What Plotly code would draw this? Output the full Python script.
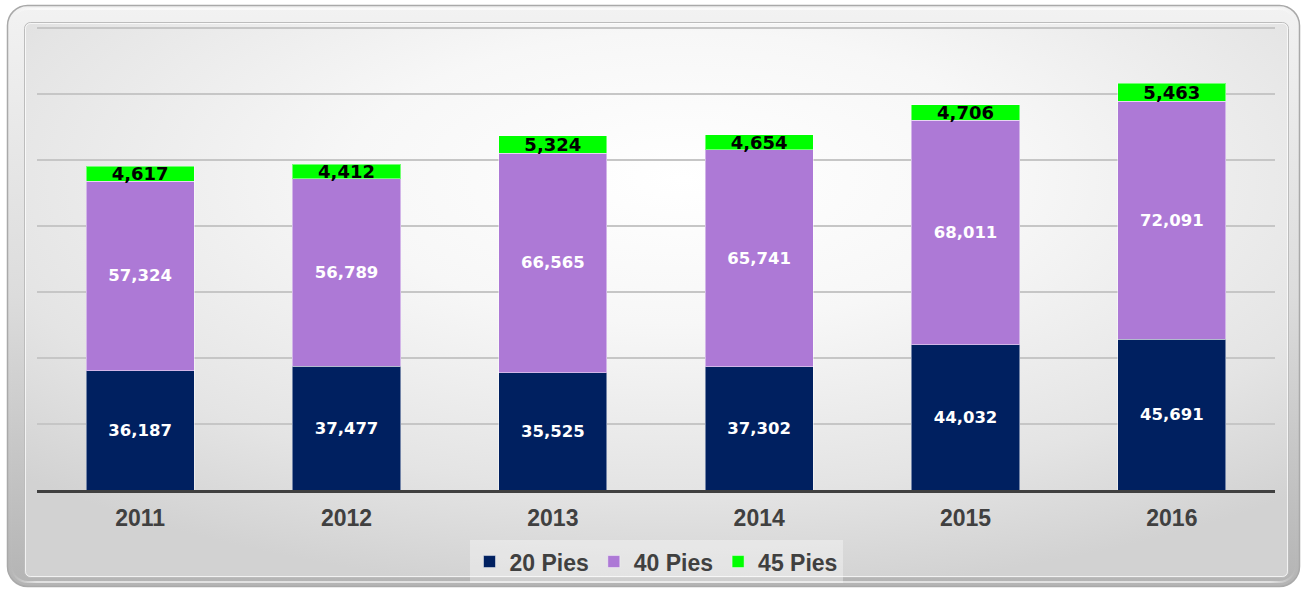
import base64
import plotly.graph_objects as go

years = ["2011", "2012", "2013", "2014", "2015", "2016"]
pies20 = [36187, 37477, 35525, 37302, 44032, 45691]
pies40 = [57324, 56789, 66565, 65741, 68011, 72091]
pies45 = [4617, 4412, 5324, 4654, 4706, 5463]
series_names = ["20 Pies", "40 Pies", "45 Pies"]
colors = ["#002060", "#AD79D6", "#00FF00"]

W, H = 1305, 589
ML, MR, MT, MB = 37, 30, 26, 99
PW, PH = W - ML - MR, H - MT - MB

svg = f'''<svg xmlns="http://www.w3.org/2000/svg" width="{W}" height="{H}" viewBox="0 0 {W} {H}">
<defs>
<linearGradient id="fr" x1="0" y1="0" x2="0" y2="1">
<stop offset="0" stop-color="#f2f2f2"/><stop offset="0.5" stop-color="#dcdcdc"/><stop offset="1" stop-color="#b4b4b4"/>
</linearGradient>
<linearGradient id="frh" x1="0" y1="0" x2="1" y2="0">
<stop offset="0" stop-color="#ffffff" stop-opacity="0.0"/><stop offset="0.02" stop-color="#ffffff" stop-opacity="0.6"/>
<stop offset="0.98" stop-color="#ffffff" stop-opacity="0.6"/><stop offset="1" stop-color="#ffffff" stop-opacity="0.0"/>
</linearGradient>
<radialGradient id="pn" cx="0.52" cy="0.28" r="0.75" fx="0.52" fy="0.28">
<stop offset="0" stop-color="#ffffff"/><stop offset="0.35" stop-color="#f7f7f7"/>
<stop offset="0.75" stop-color="#e4e4e4"/><stop offset="1" stop-color="#d2d2d2"/>
</radialGradient>
</defs>
<rect x="7.5" y="5.5" width="1292" height="581" rx="20" ry="20" fill="url(#fr)" stroke="#a9a9a9" stroke-width="1.5"/>
<rect x="11" y="9" width="1285" height="573" rx="17" ry="17" fill="none" stroke="url(#frh)" stroke-width="2"/>
<rect x="24.5" y="22.5" width="1264" height="555" rx="6" ry="6" fill="url(#pn)" stroke="#bcbcbc" stroke-width="1"/>
<rect x="25.5" y="23.5" width="1262" height="553" rx="5" ry="5" fill="none" stroke="#ffffff" stroke-opacity="0.7" stroke-width="1"/>
</svg>'''
src = "data:image/svg+xml;base64," + base64.b64encode(svg.encode()).decode()

fig = go.Figure()
values = [pies20, pies40, pies45]
for name, vals, col in zip(series_names, values, colors):
    is_top = name == "45 Pies"
    fig.add_trace(go.Bar(
        x=years, y=vals, name=name,
        marker=dict(color=col, line=dict(color="rgba(255,255,255,0.45)", width=1)),
        texttemplate="%{y:,}",
        textposition="inside",
        insidetextanchor="middle",
        textangle=0,
        constraintext="none",
        insidetextfont=dict(family="DejaVu Sans", size=18 if is_top else 16.5,
                            color="#000000" if is_top else "#ffffff", weight="bold"),
        hoverinfo="skip",
    ))

fig.update_layout(
    width=W, height=H,
    margin=dict(l=ML, r=MR, t=MT, b=MB, pad=0, autoexpand=False),
    barmode="stack",
    bargap=0.476,
    paper_bgcolor="#ffffff",
    plot_bgcolor="rgba(0,0,0,0)",
    showlegend=True,
    legend=dict(
        orientation="h", x=0.5, xanchor="center", y=-0.108, yanchor="top",
        bgcolor="rgba(255,255,255,0.35)",
        font=dict(family="Liberation Sans", size=23, color="#404040", weight="bold"),
        traceorder="normal", itemclick=False, itemdoubleclick=False,
    ),
    images=[dict(
        source=src, xref="paper", yref="paper",
        x=-ML / PW, y=1 + MT / PH, sizex=W / PW, sizey=H / PH,
        xanchor="left", yanchor="top", sizing="stretch", layer="below",
    )],
    xaxis=dict(
        showline=True, linecolor="#404040", linewidth=2.5, automargin=False,
        showgrid=False, ticks="", ticklabelstandoff=6,
        tickfont=dict(family="Liberation Sans", size=23, color="#404040", weight="bold"),
        fixedrange=True,
    ),
    yaxis=dict(
        range=[0, 140600], dtick=20000, tick0=0, automargin=False,
        showgrid=True, gridcolor="#c6c6c6", gridwidth=1.5,
        zeroline=False, showticklabels=False, ticks="", fixedrange=True,
    ),
)

fig.write_html("out.html", config={"displayModeBar": False},
               post_script="document.body.style.margin='0';document.body.style.overflow='hidden';")
